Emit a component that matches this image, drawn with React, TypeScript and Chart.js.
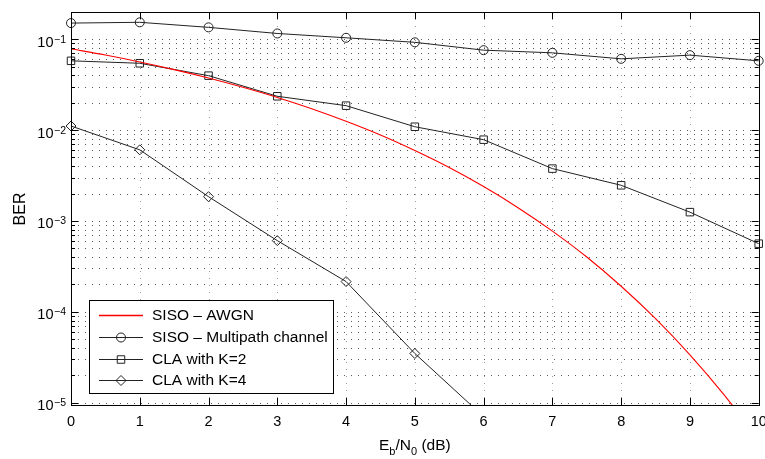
import React, { useEffect, useRef } from "react";
import { Chart, registerables } from "chart.js";

Chart.register(...registerables);

// ---- data ----
const ebn0 = [0, 1, 2, 3, 4, 5, 6, 7, 8, 9, 10];
const multipath = [0.151, 0.154, 0.1355, 0.116, 0.104, 0.0927, 0.076, 0.071, 0.061, 0.067, 0.058];
const claK2 = [0.058, 0.0545, 0.0398, 0.0236, 0.0186, 0.0109, 0.00785, 0.00377, 0.00247, 0.00125, 0.000562];
const claK4 = [0.0111, 0.00607, 0.00185, 0.000607, 0.000215, 0.0000347, 0.000007];
const awgnX = [0, 0.5, 1, 1.5, 2, 2.5, 3, 3.5, 4, 4.5, 5, 5.5, 6, 6.5, 7, 7.5, 8, 8.5, 9, 9.5, 10];
const awgnY = [0.0786, 0.0671, 0.0563, 0.0464, 0.0375, 0.0296, 0.0229, 0.0172, 0.0125, 0.00882, 0.00595, 0.00387, 0.00239, 0.0014, 0.000773, 0.000401, 0.000191, 0.000084, 0.0000336, 0.0000121, 0.00000387];
const xTicks = [0, 1, 2, 3, 4, 5, 6, 7, 8, 9, 10];
const yDecades = [-1, -2, -3, -4, -5];
const legendLabels = ["SISO – AWGN", "SISO – Multipath channel", "CLA with K=2", "CLA with K=4"];

const Y_MIN = 9.4e-6;
const Y_MAX = 0.2;
const FONT = "'Liberation Sans', Arial, Helvetica, sans-serif";
const LINE = "#222222";
const RED = "#ff0000";

function drawMarker(ctx: CanvasRenderingContext2D, style: string, x: number, y: number) {
  ctx.beginPath();
  if (style === "circle") {
    ctx.arc(x, y, 4.5, 0, Math.PI * 2);
  } else if (style === "rect") {
    ctx.rect(x - 3.75, y - 3.75, 7.5, 7.5);
  } else if (style === "diamond") {
    ctx.moveTo(x - 5, y);
    ctx.lineTo(x, y - 5);
    ctx.lineTo(x + 5, y);
    ctx.lineTo(x, y + 5);
    ctx.closePath();
  }
  ctx.stroke();
}

const axesPlugin = {
  id: "matlabAxes",
  beforeDatasetsDraw(chart: any) {
    const { ctx, chartArea: a, scales } = chart;
    const xs = scales.x, ys = scales.y;
    ctx.save();
    ctx.lineWidth = 1;
    ctx.strokeStyle = "#9a9a9a";
    ctx.setLineDash([1, 6]);
    for (const t of xTicks) {
      if (t === 0 || t === 10) continue;
      const px = Math.round(xs.getPixelForValue(t)) + 0.5;
      ctx.beginPath();
      ctx.moveTo(px, a.top);
      ctx.lineTo(px, a.bottom);
      ctx.stroke();
    }
    ctx.strokeStyle = "#5a5a5a";
    for (let n = -6; n <= 0; n++) {
      for (let k = 1; k <= 9; k++) {
        const v = k * Math.pow(10, n);
        if (v < Y_MIN || v > Y_MAX) continue;
        const py = Math.round(ys.getPixelForValue(v)) + 0.5;
        ctx.beginPath();
        ctx.moveTo(a.left, py);
        ctx.lineTo(a.right, py);
        ctx.stroke();
      }
    }
    ctx.restore();
  },
  afterDatasetsDraw(chart: any) {
    const { ctx, chartArea: a, scales } = chart;
    const xs = scales.x, ys = scales.y;
    ctx.save();
    ctx.setLineDash([]);
    ctx.strokeStyle = "#000";
    ctx.lineWidth = 1;
    for (const t of xTicks) {
      const px = Math.round(xs.getPixelForValue(t)) + 0.5;
      ctx.beginPath();
      ctx.moveTo(px, a.bottom);
      ctx.lineTo(px, a.bottom - 7);
      ctx.moveTo(px, a.top);
      ctx.lineTo(px, a.top + 7);
      ctx.stroke();
    }
    for (let n = -6; n <= 0; n++) {
      for (let k = 1; k <= 9; k++) {
        const v = k * Math.pow(10, n);
        if (v < Y_MIN || v > Y_MAX) continue;
        const py = Math.round(ys.getPixelForValue(v)) + 0.5;
        const len = k === 1 ? 7 : 4;
        ctx.beginPath();
        ctx.moveTo(a.left, py);
        ctx.lineTo(a.left + len, py);
        ctx.moveTo(a.right, py);
        ctx.lineTo(a.right - len, py);
        ctx.stroke();
      }
    }
    ctx.strokeRect(Math.round(a.left) + 0.5, Math.round(a.top) + 0.5, Math.round(a.right - a.left), Math.round(a.bottom - a.top));

    ctx.fillStyle = "#000";
    ctx.font = `14.5px ${FONT}`;
    ctx.textAlign = "center";
    ctx.textBaseline = "alphabetic";
    for (const t of xTicks) {
      ctx.fillText(String(t), xs.getPixelForValue(t), a.bottom + 21);
    }
    for (const n of yDecades) {
      const py = ys.getPixelForValue(Math.pow(10, n));
      ctx.font = `14.5px ${FONT}`;
      ctx.textAlign = "right";
      ctx.fillText("10", 53.5, py + 7.4);
      ctx.font = `10.5px ${FONT}`;
      ctx.textAlign = "left";
      ctx.fillText("\u2212" + String(-n), 54, py + 3.4);
    }
    ctx.save();
    ctx.translate(24.5, 209);
    ctx.rotate(-Math.PI / 2);
    ctx.font = `16px ${FONT}`;
    ctx.textAlign = "center";
    ctx.fillText("BER", 0, 0);
    ctx.restore();
    const parts: [string, number, number][] = [
      ["E", 15.5, 0], ["b", 11, 5], ["/N", 15.5, 0], ["0", 11, 5], [" (dB)", 15.5, 0],
    ];
    let total = 0;
    for (const [s, size] of parts) {
      ctx.font = `${size}px ${FONT}`;
      total += ctx.measureText(s).width;
    }
    let cx = (a.left + a.right) / 2 - total / 2;
    ctx.textAlign = "left";
    for (const [s, size, dy] of parts) {
      ctx.font = `${size}px ${FONT}`;
      ctx.fillText(s, cx, 450 + dy);
      cx += ctx.measureText(s).width;
    }

    // legend
    const lx = 89.5, ly = 300.5, lw = 244, lh = 93;
    ctx.fillStyle = "#fff";
    ctx.fillRect(lx, ly, lw, lh);
    ctx.strokeStyle = "#000";
    ctx.strokeRect(lx, ly, lw, lh);
    const rows = [315, 337, 359, 380];
    const styles = ["none", "circle", "rect", "diamond"];
    const colors = [RED, LINE, LINE, LINE];
    for (let i = 0; i < 4; i++) {
      const ry = rows[i];
      ctx.fillStyle = colors[i];
      if (i === 0) ctx.fillRect(99, ry - 0.25, 44, 1.5);
      else ctx.fillRect(99, ry, 44, 1);
      if (styles[i] !== "none") {
        ctx.strokeStyle = colors[i];
        ctx.lineWidth = 1;
        drawMarker(ctx, styles[i], 121, ry + 0.5);
      }
      ctx.fillStyle = "#000";
      ctx.font = `15.5px ${FONT}`;
      ctx.textAlign = "left";
      ctx.textBaseline = "middle";
      ctx.fillText(legendLabels[i], 152, ry + 1);
    }
    ctx.restore();
  },
};

export default function App() {
  const ref = useRef<HTMLCanvasElement | null>(null);
  useEffect(() => {
    document.body.style.margin = "0";
    if (!ref.current) return;
    const clip = { left: 10, right: 10, top: 10, bottom: 0 };
    const chart = new Chart(ref.current, {
      type: "line",
      data: {
        datasets: [
          {
            label: legendLabels[0],
            data: awgnX.map((x, i) => ({ x, y: awgnY[i] })),
            borderColor: RED,
            borderWidth: 1.1,
            pointRadius: 0,
            cubicInterpolationMode: "monotone",
            clip,
          } as any,
          {
            label: legendLabels[1],
            data: ebn0.map((x, i) => ({ x, y: multipath[i] })),
            borderColor: LINE,
            borderWidth: 1,
            pointStyle: "circle",
            pointRadius: 4.5,
            pointBorderColor: LINE,
            pointBackgroundColor: "rgba(0,0,0,0)",
            pointBorderWidth: 1,
            clip,
          },
          {
            label: legendLabels[2],
            data: ebn0.map((x, i) => ({ x, y: claK2[i] })),
            borderColor: LINE,
            borderWidth: 1,
            pointStyle: "rect",
            pointRadius: 5.3,
            pointBorderColor: LINE,
            pointBackgroundColor: "rgba(0,0,0,0)",
            pointBorderWidth: 1,
            clip,
          },
          {
            label: legendLabels[3],
            data: claK4.map((y, i) => ({ x: ebn0[i], y })),
            borderColor: LINE,
            borderWidth: 1,
            pointStyle: "rectRot",
            pointRadius: 5,
            pointBorderColor: LINE,
            pointBackgroundColor: "rgba(0,0,0,0)",
            pointBorderWidth: 1,
            clip,
          },
        ],
      },
      options: {
        responsive: false,
        animation: false,
        devicePixelRatio: 1,
        layout: { padding: { left: 71, right: 5, top: 12, bottom: 54 } },
        plugins: { legend: { display: false }, tooltip: { enabled: false } },
        scales: {
          x: { type: "linear", min: 0, max: 10, display: false },
          y: { type: "logarithmic", min: Y_MIN, max: Y_MAX, display: false },
        },
      },
      plugins: [axesPlugin],
    });
    return () => chart.destroy();
  }, []);
  return (
    <div style={{ width: 765, height: 459 }}>
      <canvas ref={ref} width={765} height={459} />
    </div>
  );
}
